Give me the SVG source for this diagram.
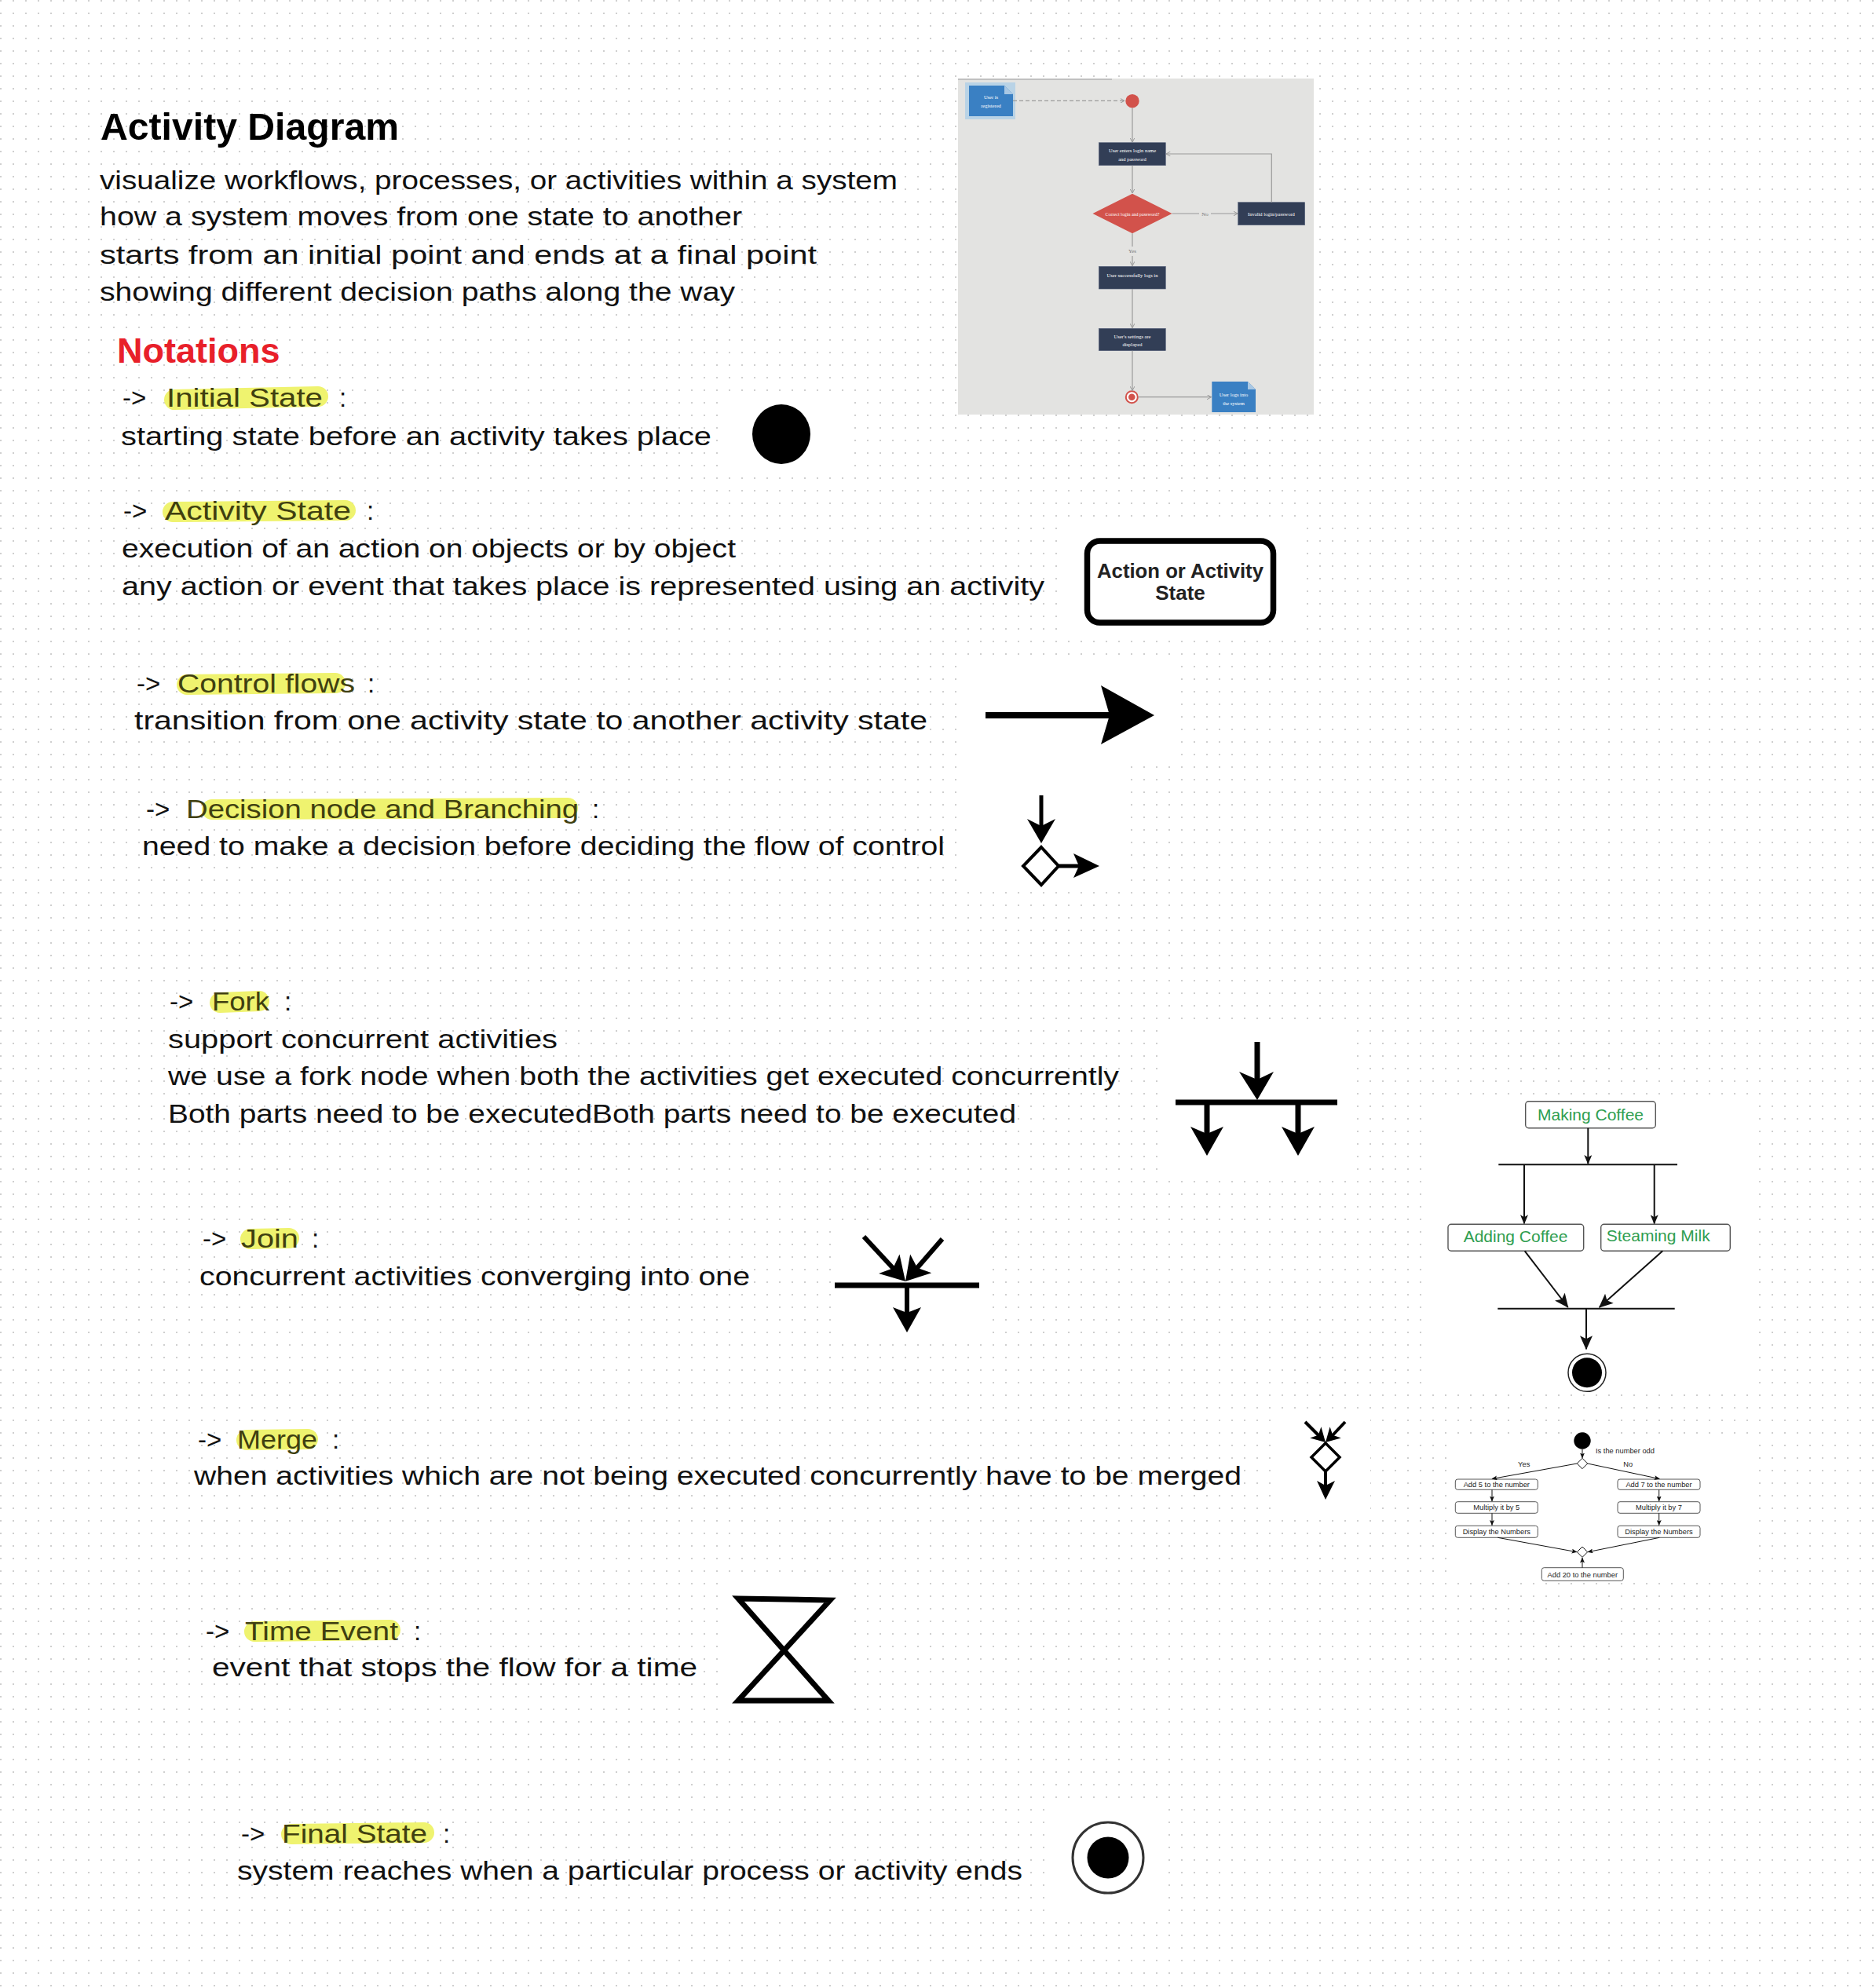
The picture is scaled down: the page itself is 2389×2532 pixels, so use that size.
<svg xmlns="http://www.w3.org/2000/svg" width="2389" height="2532" viewBox="0 0 2389 2532">
<defs>
<pattern id="dots" width="16" height="16" patternUnits="userSpaceOnUse">
<rect x="0" y="0" width="2" height="2" fill="#cfcfcf"/>
</pattern>
<marker id="ca" viewBox="0 0 12 10" refX="11" refY="5" markerWidth="12" markerHeight="10" markerUnits="userSpaceOnUse" orient="auto">
<path d="M0 0 L12 5 L0 10 L3 5 Z" fill="#111"/>
</marker>
<marker id="cb" viewBox="0 0 18 16" refX="17" refY="8" markerWidth="18" markerHeight="16" markerUnits="userSpaceOnUse" orient="auto">
<path d="M0 0 L18 8 L0 16 L4 8 Z" fill="#111"/>
</marker>
<marker id="cs" viewBox="0 0 7 6" refX="6.5" refY="3" markerWidth="7" markerHeight="6" markerUnits="userSpaceOnUse" orient="auto">
<path d="M0 0 L7 3 L0 6 L1.5 3 Z" fill="#111"/>
</marker>
<marker id="po" viewBox="0 0 6 6" refX="5.5" refY="3" markerWidth="6" markerHeight="6" markerUnits="userSpaceOnUse" orient="auto">
<path d="M0 0 L5.5 3 L0 6" fill="none" stroke="#9a9a9a" stroke-width="1"/>
</marker>
</defs>
<style>
.hand{font-family:"Liberation Sans",Arial,sans-serif;font-size:33px;fill:#111}
.kw{fill:#3f3f10}
.hl{fill:none;stroke:#eff36f;stroke-width:26;stroke-linecap:round}
.sym{fill:none;stroke:#000;stroke-linecap:butt}
.head{fill:#000}
.ss{font-family:"Liberation Serif","Times New Roman",serif;font-size:6.5px;fill:#fff;text-anchor:middle}
.sslab{font-family:"Liberation Serif","Times New Roman",serif;font-size:7px;fill:#777;text-anchor:middle}
.navy{fill:#323e56;stroke:#56617a;stroke-width:0.6}
.gline{fill:none;stroke:#9a9a9a;stroke-width:1.2}
.cbox{fill:#fff;stroke:#555;stroke-width:1.4}
.ctxt{font-family:"Liberation Sans",Arial,sans-serif;font-size:21px;fill:#2f9e50;text-anchor:middle}
.cline{fill:none;stroke:#111;stroke-width:2}
.nbox{fill:#fff;stroke:#444;stroke-width:0.9}
.ntxt{font-family:"Liberation Sans",Arial,sans-serif;font-size:9.3px;fill:#222;text-anchor:middle}
.nlab{font-family:"Liberation Sans",Arial,sans-serif;font-size:9.3px;fill:#222;text-anchor:start}
.nline{fill:none;stroke:#111;stroke-width:1}
</style>

<rect width="2389" height="2532" fill="#fff"/>
<rect width="2389" height="2532" fill="url(#dots)"/>

<g id="image-backgrounds" fill="#fff">
<rect x="916" y="505" width="172" height="95"/>
<rect x="1350" y="672" width="310" height="143"/>
<rect x="1228" y="845" width="272" height="125"/>
<rect x="1228" y="975" width="210" height="155"/>
<rect x="1478" y="1300" width="244" height="192"/>
<rect x="1062" y="1562" width="190" height="148"/>
<rect x="1630" y="1797" width="115" height="128"/>
<rect x="915" y="2015" width="170" height="172"/>
<rect x="1338" y="2295" width="150" height="145"/>
<rect x="1822" y="1397" width="412" height="376"/>
<rect x="1845" y="1828" width="385" height="185"/>
</g>

<g id="header">
<text x="128" y="178" font-family="Liberation Sans, Arial, sans-serif" font-size="48" font-weight="bold" fill="#000" textLength="380" lengthAdjust="spacingAndGlyphs">Activity Diagram</text>
<text class="hand" x="127" y="241" textLength="1016" lengthAdjust="spacingAndGlyphs">visualize workflows, processes, or activities within a system</text>
<text class="hand" x="127" y="287" textLength="818" lengthAdjust="spacingAndGlyphs">how a system moves from one state to another</text>
<text class="hand" x="127" y="336" textLength="913" lengthAdjust="spacingAndGlyphs">starts from an initial point and ends at a final point</text>
<text class="hand" x="127" y="383" textLength="809" lengthAdjust="spacingAndGlyphs">showing different decision paths along the way</text>
<text x="149" y="462" font-family="Liberation Sans, Arial, sans-serif" font-size="45" font-weight="bold" fill="#e8202a">Notations</text>
</g>

<g id="login-example">
<rect x="1220" y="100" width="453" height="428" fill="#e3e3e1"/>
<line x1="1220" y1="101" x2="1416" y2="101" stroke="#b5b5b5" stroke-width="1.5"/>
<g id="ss-registered">
<rect x="1229" y="105" width="64" height="47" fill="#b9d3e6"/>
<path d="M1234 109 L1279 109 L1290 120 L1290 148 L1234 148 Z" fill="#3a80c3"/>
<path d="M1279 109 L1279 120 L1290 120 Z" fill="#a9c8e4"/>
<text class="ss" x="1262" y="126">User is</text>
<text class="ss" x="1262" y="137">registered</text>
</g>
<g id="ss-start"><circle cx="1442" cy="128.7" r="8.7" fill="#d2524b"/></g>
<g id="ss-box1">
<rect class="navy" x="1399.3" y="181.7" width="85" height="29"/>
<text class="ss" x="1442" y="194">User enters login name</text>
<text class="ss" x="1442" y="204.5">and password</text>
</g>
<g id="ss-decision">
<path d="M1442 246.7 L1492.5 272 L1442 297.3 L1391.5 272 Z" fill="#d2524b"/>
<text class="ss" x="1442" y="274.5" style="font-size:6px">Correct login and password?</text>
</g>
<g id="ss-invalid">
<rect class="navy" x="1576.7" y="257.7" width="85" height="29"/>
<text class="ss" x="1619" y="274.5">Invalid login/password</text>
</g>
<g id="ss-box2">
<rect class="navy" x="1399.3" y="339.3" width="85" height="28.7"/>
<text class="ss" x="1442" y="352.5">User successfully logs in</text>
</g>
<g id="ss-box3">
<rect class="navy" x="1399.3" y="418.3" width="85" height="28.4"/>
<text class="ss" x="1442" y="430.5">User's settings are</text>
<text class="ss" x="1442" y="441">displayed</text>
</g>
<g id="ss-end">
<circle cx="1441.3" cy="505.7" r="7.5" fill="#fff" stroke="#d2524b" stroke-width="2"/>
<circle cx="1441.3" cy="505.7" r="4.3" fill="#d2524b"/>
</g>
<g id="ss-logs">
<path d="M1543.3 486 L1589 486 L1599 496 L1599 525 L1543.3 525 Z" fill="#3a80c3"/>
<path d="M1589 486 L1589 496 L1599 496 Z" fill="#a9c8e4"/>
<text class="ss" x="1571" y="505">User logs into</text>
<text class="ss" x="1571" y="516">the system</text>
</g>
<g id="ss-connectors">
<line class="gline" x1="1290" y1="128.3" x2="1432" y2="128.3" stroke-dasharray="5 3" marker-end="url(#po)"/>
<line class="gline" x1="1442" y1="137.4" x2="1442" y2="181" marker-end="url(#po)"/>
<line class="gline" x1="1442" y1="210.7" x2="1442" y2="246" marker-end="url(#po)"/>
<line class="gline" x1="1492.5" y1="272" x2="1527" y2="272"/>
<line class="gline" x1="1542" y1="272" x2="1576" y2="272" marker-end="url(#po)"/>
<text class="sslab" x="1534.5" y="274.5">No</text>
<polyline class="gline" points="1619.3,257.7 1619.3,196 1485,196" marker-end="url(#po)"/>
<line class="gline" x1="1442" y1="297.3" x2="1442" y2="314"/>
<text class="sslab" x="1442" y="322">Yes</text>
<line class="gline" x1="1442" y1="326" x2="1442" y2="338.6" marker-end="url(#po)"/>
<line class="gline" x1="1442" y1="368" x2="1442" y2="417.6" marker-end="url(#po)"/>
<line class="gline" x1="1442" y1="446.7" x2="1442" y2="497.5" marker-end="url(#po)"/>
<line class="gline" x1="1449.5" y1="505.7" x2="1542.6" y2="505.7" marker-end="url(#po)"/>
</g>
</g>

<g id="highlights">
<path class="hl" d="M222 509 L405 505"/>
<path class="hl" d="M220 652 L440 650"/>
<path class="hl" d="M238 872 L427 870"/>
<path class="hl" d="M270 1031 L723 1029"/>
<path class="hl" d="M280 1277 L330 1275"/>
<path class="hl" d="M319 1578 L368 1577"/>
<path class="hl" d="M314 1834 L392 1833"/>
<path class="hl" d="M324 2078 L497 2076"/>
<path class="hl" d="M371 2336 L540 2334"/>
</g>

<g id="initial-state">
<text class="hand" x="156" y="518">-&gt;</text>
<text class="hand kw" x="212" y="518" textLength="199" lengthAdjust="spacingAndGlyphs">Initial State</text>
<text class="hand" x="432" y="518">:</text>
<text class="hand" x="154" y="567" textLength="752" lengthAdjust="spacingAndGlyphs">starting state before an activity takes place</text>
<ellipse cx="995" cy="553" rx="37" ry="38" fill="#000"/>
</g>

<g id="activity-state">
<text class="hand" x="157" y="662">-&gt;</text>
<text class="hand kw" x="210" y="662" textLength="237" lengthAdjust="spacingAndGlyphs">Activity State</text>
<text class="hand" x="467" y="662">:</text>
<text class="hand" x="155" y="710" textLength="782" lengthAdjust="spacingAndGlyphs">execution of an action on objects or by object</text>
<text class="hand" x="155" y="758" textLength="1175" lengthAdjust="spacingAndGlyphs">any action or event that takes place is represented using an activity</text>
<rect x="1384.5" y="689" width="237" height="104" rx="16" fill="#fff" stroke="#000" stroke-width="7.5"/>
<text x="1503" y="736" font-family="Liberation Sans, Arial, sans-serif" font-size="26" font-weight="bold" fill="#222" text-anchor="middle" textLength="212" lengthAdjust="spacingAndGlyphs">Action or Activity</text>
<text x="1503" y="764" font-family="Liberation Sans, Arial, sans-serif" font-size="26" font-weight="bold" fill="#222" text-anchor="middle">State</text>
</g>

<g id="control-flows">
<text class="hand" x="174" y="882">-&gt;</text>
<text class="hand kw" x="226" y="882" textLength="226" lengthAdjust="spacingAndGlyphs">Control flows</text>
<text class="hand" x="468" y="882">:</text>
<text class="hand" x="171" y="929" textLength="1010" lengthAdjust="spacingAndGlyphs">transition from one activity state to another activity state</text>
<line class="sym" x1="1255" y1="911" x2="1415" y2="911" stroke-width="8"/>
<path class="head" d="M1470 911 L1402 873 L1413 911 L1402 948 Z"/>
</g>

<g id="decision-node">
<text class="hand" x="186" y="1042">-&gt;</text>
<text class="hand kw" x="237" y="1042" textLength="500" lengthAdjust="spacingAndGlyphs">Decision node and Branching</text>
<text class="hand" x="754" y="1042">:</text>
<text class="hand" x="181" y="1089" textLength="1022" lengthAdjust="spacingAndGlyphs">need to make a decision before deciding the flow of control</text>
<line class="sym" x1="1326" y1="1013" x2="1326" y2="1054" stroke-width="5"/>
<path class="head" d="M1326 1074 L1308 1043 L1326 1052 L1344 1043 Z"/>
<path d="M1326 1079 L1348 1103 L1326 1127 L1303 1103 Z" fill="#fff" stroke="#000" stroke-width="4"/>
<line class="sym" x1="1348" y1="1103" x2="1376" y2="1103" stroke-width="5"/>
<path class="head" d="M1400 1103 L1367 1087 L1374 1103 L1367 1118 Z"/>
</g>

<g id="fork">
<text class="hand" x="216" y="1287">-&gt;</text>
<text class="hand kw" x="270" y="1287" textLength="73" lengthAdjust="spacingAndGlyphs">Fork</text>
<text class="hand" x="362" y="1287">:</text>
<text class="hand" x="214" y="1335" textLength="496" lengthAdjust="spacingAndGlyphs">support concurrent activities</text>
<text class="hand" x="214" y="1382" textLength="1211" lengthAdjust="spacingAndGlyphs">we use a fork node when both the activities get executed concurrently</text>
<text class="hand" x="214" y="1430" textLength="1080" lengthAdjust="spacingAndGlyphs">Both parts need to be executedBoth parts need to be executed</text>
<line class="sym" x1="1497" y1="1404" x2="1703" y2="1404" stroke-width="7"/>
<line class="sym" x1="1601" y1="1327" x2="1601" y2="1378" stroke-width="7"/>
<path class="head" d="M1601 1401 L1578 1365 L1601 1375 L1622 1365 Z"/>
<line class="sym" x1="1537" y1="1404" x2="1537" y2="1446" stroke-width="7"/>
<path class="head" d="M1537 1472 L1516 1435 L1537 1444 L1558 1435 Z"/>
<line class="sym" x1="1653" y1="1404" x2="1653" y2="1446" stroke-width="7"/>
<path class="head" d="M1653 1472 L1632 1435 L1653 1444 L1674 1435 Z"/>
</g>

<g id="join">
<text class="hand" x="258" y="1589">-&gt;</text>
<text class="hand kw" x="307" y="1589" textLength="73" lengthAdjust="spacingAndGlyphs">Join</text>
<text class="hand" x="397" y="1589">:</text>
<text class="hand" x="254" y="1637" textLength="701" lengthAdjust="spacingAndGlyphs">concurrent activities converging into one</text>
<line class="sym" x1="1063" y1="1637" x2="1247" y2="1637" stroke-width="7"/>
<line class="sym" x1="1100" y1="1575" x2="1138" y2="1616" stroke-width="6"/>
<path class="head" d="M1153 1632 L1145.5 1597.4 L1137.3 1615.2 L1119.1 1622 Z"/>
<line class="sym" x1="1200" y1="1578" x2="1167" y2="1616" stroke-width="6"/>
<path class="head" d="M1153 1632 L1159.1 1597.6 L1168.1 1614.7 L1186.3 1621.2 Z"/>
<line class="sym" x1="1155" y1="1637" x2="1155" y2="1675" stroke-width="6"/>
<path class="head" d="M1155 1697 L1137 1665 L1155 1672 L1173 1665 Z"/>
</g>

<g id="merge">
<text class="hand" x="252" y="1845">-&gt;</text>
<text class="hand kw" x="302" y="1845" textLength="102" lengthAdjust="spacingAndGlyphs">Merge</text>
<text class="hand" x="423" y="1845">:</text>
<text class="hand" x="247" y="1891" textLength="1334" lengthAdjust="spacingAndGlyphs">when activities which are not being executed concurrently have to be merged</text>
<line class="sym" x1="1662" y1="1811" x2="1679" y2="1828" stroke-width="4"/>
<path class="head" d="M1688 1837 L1682.4 1817.2 L1678.8 1827.8 L1668.2 1831.4 Z"/>
<line class="sym" x1="1713" y1="1811" x2="1697" y2="1828" stroke-width="4"/>
<path class="head" d="M1688 1837 L1693.6 1817.2 L1697.2 1827.8 L1707.8 1831.4 Z"/>
<path d="M1688 1838 L1706 1856 L1688 1874 L1670 1856 Z" fill="#fff" stroke="#000" stroke-width="3.5"/>
<line class="sym" x1="1688" y1="1874" x2="1688" y2="1894" stroke-width="4"/>
<path class="head" d="M1688 1910 L1677 1886 L1688 1892 L1700 1886 Z"/>
</g>

<g id="time-event">
<text class="hand" x="262" y="2089">-&gt;</text>
<text class="hand kw" x="312" y="2089" textLength="195" lengthAdjust="spacingAndGlyphs">Time Event</text>
<text class="hand" x="527" y="2089">:</text>
<text class="hand" x="270" y="2135" textLength="618" lengthAdjust="spacingAndGlyphs">event that stops the flow for a time</text>
<path d="M940 2036 L1057 2038 L940 2166 L1055 2166 Z" fill="none" stroke="#000" stroke-width="7" stroke-linejoin="miter"/>
</g>

<g id="final-state">
<text class="hand" x="307" y="2347">-&gt;</text>
<text class="hand kw" x="359" y="2347" textLength="185" lengthAdjust="spacingAndGlyphs">Final State</text>
<text class="hand" x="564" y="2347">:</text>
<text class="hand" x="302" y="2394" textLength="1000" lengthAdjust="spacingAndGlyphs">system reaches when a particular process or activity ends</text>
<circle cx="1411" cy="2366" r="45" fill="#fff" stroke="#333" stroke-width="3"/>
<circle cx="1411" cy="2366" r="26.5" fill="#000"/>
</g>

<g id="coffee-example">
<g id="coffee-making">
<rect class="cbox" x="1942.7" y="1402.7" width="165.6" height="34" rx="4"/>
<text class="ctxt" x="2025.5" y="1426.5">Making Coffee</text>
</g>
<g id="coffee-adding">
<rect class="cbox" x="1844" y="1559.3" width="172.7" height="34" rx="4"/>
<text class="ctxt" x="1930" y="1582">Adding Coffee</text>
</g>
<g id="coffee-steaming">
<rect class="cbox" x="2038.7" y="1559.3" width="164.6" height="34" rx="4"/>
<text class="ctxt" x="2111.7" y="1581">Steaming Milk</text>
</g>
<g id="coffee-final">
<circle cx="2021" cy="1748.3" r="24" fill="#fff" stroke="#222" stroke-width="1.5"/>
<circle cx="2021" cy="1748.3" r="19" fill="#000"/>
</g>
<g id="coffee-connectors">
<line class="cline" x1="1908.3" y1="1483.3" x2="2136" y2="1483.3"/>
<line class="cline" x1="1907.3" y1="1666.7" x2="2132.7" y2="1666.7"/>
<line class="cline" x1="2022.3" y1="1436.7" x2="2022.3" y2="1482" marker-end="url(#ca)"/>
<line class="cline" x1="1941" y1="1483.3" x2="1941" y2="1558.3" marker-end="url(#ca)"/>
<line class="cline" x1="2106.7" y1="1483.3" x2="2106.7" y2="1558.3" marker-end="url(#ca)"/>
<line class="cline" x1="1941.7" y1="1593.3" x2="1996.7" y2="1665" marker-end="url(#cb)"/>
<line class="cline" x1="2117.3" y1="1593.3" x2="2036.7" y2="1665" marker-end="url(#cb)"/>
<line class="cline" x1="2020" y1="1666.7" x2="2020" y2="1718.3" marker-end="url(#cb)"/>
</g>
</g>

<g id="odd-example">
<g id="odd-start"><circle cx="2015" cy="1835" r="10.7" fill="#000"/></g>
<text class="nlab" x="2032" y="1851">Is the number odd</text>
<g id="odd-decision"><path d="M2015 1857.3 L2021.7 1864 L2015 1870.7 L2008.3 1864 Z" fill="#fff" stroke="#111" stroke-width="1"/></g>
<text class="ntxt" x="1940.7" y="1868">Yes</text>
<text class="ntxt" x="2073.3" y="1868">No</text>
<g id="odd-add5"><rect class="nbox" x="1853.3" y="1884" width="105" height="13.3" rx="3"/><text class="ntxt" x="1905.8" y="1894.2">Add 5 to the number</text></g>
<g id="odd-mul5"><rect class="nbox" x="1853.3" y="1912.7" width="105" height="14.6" rx="3"/><text class="ntxt" x="1905.8" y="1923.3">Multiply it by 5</text></g>
<g id="odd-disp1"><rect class="nbox" x="1853.3" y="1943.3" width="105" height="15" rx="3"/><text class="ntxt" x="1905.8" y="1954.2">Display the Numbers</text></g>
<g id="odd-add7"><rect class="nbox" x="2060" y="1884" width="105" height="13.3" rx="3"/><text class="ntxt" x="2112.5" y="1894.2">Add 7 to the number</text></g>
<g id="odd-mul7"><rect class="nbox" x="2060" y="1912.7" width="105" height="14.6" rx="3"/><text class="ntxt" x="2112.5" y="1923.3">Multiply it by 7</text></g>
<g id="odd-disp2"><rect class="nbox" x="2060" y="1943.3" width="105" height="15" rx="3"/><text class="ntxt" x="2112.5" y="1954.2">Display the Numbers</text></g>
<g id="odd-merge"><path d="M2015 1970 L2021.7 1976.7 L2015 1983.4 L2008.3 1976.7 Z" fill="#fff" stroke="#111" stroke-width="1"/></g>
<g id="odd-add20"><rect class="nbox" x="1963.3" y="1996.7" width="104" height="16.6" rx="3"/><text class="ntxt" x="2015.3" y="2008.5">Add 20 to the number</text></g>
<g id="odd-connectors">
<line class="nline" x1="2015" y1="1846" x2="2015" y2="1857" marker-end="url(#cs)"/>
<line class="nline" x1="2008.3" y1="1864" x2="1900" y2="1883.5" marker-end="url(#cs)"/>
<line class="nline" x1="2021.7" y1="1864" x2="2113.3" y2="1883.5" marker-end="url(#cs)"/>
<line class="nline" x1="1900" y1="1897.3" x2="1900" y2="1912" marker-end="url(#cs)"/>
<line class="nline" x1="1900" y1="1927.3" x2="1900" y2="1942.6" marker-end="url(#cs)"/>
<line class="nline" x1="2112.7" y1="1897.3" x2="2112.7" y2="1912" marker-end="url(#cs)"/>
<line class="nline" x1="2112.7" y1="1927.3" x2="2112.7" y2="1942.6" marker-end="url(#cs)"/>
<line class="nline" x1="1907.3" y1="1958.3" x2="2008" y2="1976.7" marker-end="url(#cs)"/>
<line class="nline" x1="2113.3" y1="1958.3" x2="2022" y2="1976.7" marker-end="url(#cs)"/>
<line class="nline" x1="2015" y1="1996.7" x2="2015" y2="1984" marker-end="url(#cs)"/>
</g>
</g>
</svg>
